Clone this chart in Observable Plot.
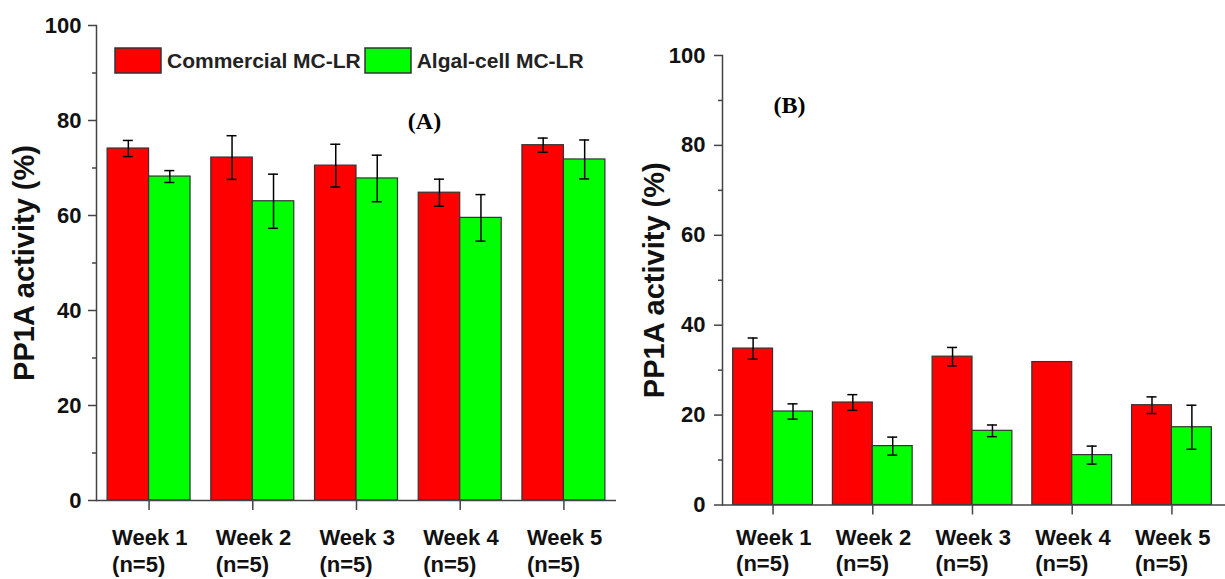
<!DOCTYPE html>
<html><head><meta charset="utf-8">
<script src="https://cdn.jsdelivr.net/npm/d3@7"></script>
<script src="https://cdn.jsdelivr.net/npm/@observablehq/plot@0.6"></script>
<style>
body{margin:0;background:#fff;}
#wrap{position:relative;width:1225px;height:579px;overflow:hidden;background:#fff;}
#wrap svg.pnl{position:absolute;top:0;background:transparent !important;max-width:none !important;}
#legend{position:absolute;left:115px;top:48px;}
.lg-swatches{min-height:0 !important;margin:0 !important;font-family:"Liberation Sans",Arial,sans-serif !important;font-size:21px !important;font-weight:bold !important;color:#222 !important;}
.lg-swatch{margin-right:4px !important;}
.lg-swatch > svg{margin-right:6px !important;overflow:visible;}
.lg-swatch rect{stroke:#333;stroke-width:1.5px;}
</style></head><body><div id="wrap"><div id="legend"></div></div>
<script>
// ---- data ----
const weeks = ["Week 1", "Week 2", "Week 3", "Week 4", "Week 5"];
const sampleLabels = ["(n=5)", "(n=5)", "(n=5)", "(n=5)", "(n=5)"];
const seriesNames = ["Commercial MC-LR", "Algal-cell MC-LR"];
const seriesColors = ["#ff0000", "#00ff00"];
const yTicks = [0, 20, 40, 60, 80, 100];
const yMinorTicks = [10, 30, 50, 70, 90];
const yLabel = "PP1A activity (%)";

// Panel A
const aCommercial = [74.1, 72.2, 70.5, 64.8, 74.8];
const aCommercialErr = [1.7, 4.6, 4.5, 2.85, 1.5];
const aAlgal = [68.2, 63.0, 67.8, 59.5, 71.8];
const aAlgalErr = [1.25, 5.7, 4.9, 4.9, 4.1];
// Panel B
const bCommercial = [34.8, 22.8, 33.0, 31.8, 22.2];
const bCommercialErr = [2.35, 1.75, 2.05, 0, 1.85];
const bAlgal = [20.8, 13.1, 16.5, 11.1, 17.3];
const bAlgalErr = [1.7, 2.0, 1.3, 2.0, 4.9];

function rows(vals, errs, series) {
  return weeks.map((w, i) => ({week: w, series, value: vals[i], err: errs[i]}));
}

const PAD_IN = 0.2, PAD_OUT = 0.107;
const AX = "#444";

function panel(o) {
  const comm = rows(o.comm, o.commErr, seriesNames[0]);
  const alg = rows(o.alg, o.algErr, seriesNames[1]);
  const bw = d3.scaleBand().domain(weeks)
    .range([o.marginLeft, o.width - o.marginRight])
    .paddingInner(PAD_IN).paddingOuter(PAD_OUT).bandwidth();
  const q = bw / 4, cap = 5;
  const ce = comm.filter(d => d.err > 0), ae = alg.filter(d => d.err > 0);
  const fmt = d => d + "\n" + sampleLabels[weeks.indexOf(d)];
  const svg = Plot.plot({
    width: o.width, height: o.height,
    marginLeft: o.marginLeft, marginRight: o.marginRight,
    marginTop: o.marginTop, marginBottom: o.marginBottom,
    x: {type: "band", domain: weeks, paddingInner: PAD_IN, paddingOuter: PAD_OUT, align: 0.5, round: false, label: null},
    y: {domain: [0, 100], label: null},
    color: {domain: seriesNames, range: seriesColors},
    style: {fontFamily: "'Liberation Sans', Arial, sans-serif", fontWeight: "bold", color: "#111", background: "transparent"},
    marks: [
      Plot.barY(comm, {x: "week", y: "value", fill: "series", stroke: "#333", strokeWidth: 1.2, insetRight: bw / 2}),
      Plot.barY(alg, {x: "week", y: "value", fill: "series", stroke: "#333", strokeWidth: 1.2, insetLeft: bw / 2}),
      Plot.ruleX(ce, {x: "week", y1: d => d.value - d.err, y2: d => d.value + d.err, dx: -q, stroke: "#000", strokeWidth: 1.5}),
      Plot.ruleX(ae, {x: "week", y1: d => d.value - d.err, y2: d => d.value + d.err, dx: q, stroke: "#000", strokeWidth: 1.5}),
      Plot.tickY(ce, {x: "week", y: d => d.value + d.err, insetLeft: q - cap, insetRight: 3 * q - cap, stroke: "#000", strokeWidth: 1.5}),
      Plot.tickY(ce, {x: "week", y: d => d.value - d.err, insetLeft: q - cap, insetRight: 3 * q - cap, stroke: "#000", strokeWidth: 1.5}),
      Plot.tickY(ae, {x: "week", y: d => d.value + d.err, insetLeft: 3 * q - cap, insetRight: q - cap, stroke: "#000", strokeWidth: 1.5}),
      Plot.tickY(ae, {x: "week", y: d => d.value - d.err, insetLeft: 3 * q - cap, insetRight: q - cap, stroke: "#000", strokeWidth: 1.5}),
      Plot.axisY({ticks: yTicks, tickSize: 8, tickPadding: o.yPad, fontSize: 22, stroke: AX, strokeWidth: 1.5, label: null}),
      Plot.axisY({ticks: yMinorTicks, tickSize: 4, tickFormat: () => "", stroke: AX, strokeWidth: 1.5, label: null}),
      Plot.axisX({tickSize: 10, tickFormat: () => "", stroke: AX, strokeWidth: 1.5, label: null}),
      Plot.axisX({tickSize: 0, tickPadding: 10 + o.xPad, tickFormat: fmt, fontSize: 22, textAnchor: "start", dx: o.xLabelDx, lineHeight: 1.2, label: null}),
      Plot.frame({anchor: "left", stroke: AX, strokeWidth: 1.5}),
      Plot.ruleY([0], {stroke: AX, strokeWidth: 1.5, insetRight: -o.extendRight}),
      Plot.text([o.tag], {text: d => d, frameAnchor: "top-left", dx: o.tagDx, dy: o.tagDy, fontFamily: "'Liberation Serif', 'Times New Roman', serif", fontSize: 24, fontWeight: "bold", fill: "#000", textAnchor: "middle", lineAnchor: "middle"}),
      Plot.text([yLabel], {text: d => d, frameAnchor: "left", rotate: -90, dx: o.labelDx, fontSize: 29, fill: "#111", textAnchor: "middle", lineAnchor: "middle"})
    ]
  });
  svg.classList.add("pnl");
  svg.style.left = o.left + "px";
  return svg;
}

const wrap = document.getElementById("wrap");
wrap.appendChild(panel({
  left: 0, width: 620, height: 579, marginLeft: 96, marginRight: 4, marginTop: 25, marginBottom: 79,
  comm: aCommercial, commErr: aCommercialErr, alg: aAlgal, algErr: aAlgalErr,
  tag: "(A)", tagDx: 328, tagDy: 96, labelDx: -72, yPad: 7, xPad: 16, xLabelDx: -37, extendRight: 0
}));
wrap.appendChild(panel({
  left: 600, width: 625, height: 579, marginLeft: 122, marginRight: 3, marginTop: 55, marginBottom: 74.5,
  comm: bCommercial, commErr: bCommercialErr, alg: bAlgal, algErr: bAlgalErr,
  tag: "(B)", tagDx: 67, tagDy: 50, labelDx: -68, yPad: 9, xPad: 11, xLabelDx: -37, extendRight: 3
}));

const lg = Plot.legend({
  color: {domain: seriesNames, range: seriesColors},
  swatchWidth: 46, swatchHeight: 25, className: "lg"
});
document.getElementById("legend").appendChild(lg);
</script>
</body></html>
